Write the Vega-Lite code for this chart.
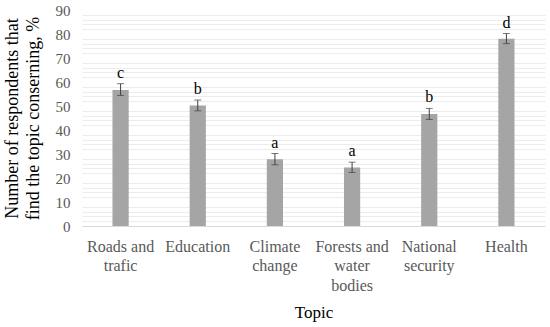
{
  "$schema": "https://vega.github.io/schema/vega-lite/v6.json",
  "width": 463,
  "height": 216,
  "autosize": "none",
  "padding": {"left": 82, "top": 10, "right": 5, "bottom": 101},
  "background": "white",
  "config": {"view": {"stroke": null}, "font": "Liberation Serif"},
  "data": {"values": [
    {"topic": "Roads and trafic", "value": 56.7, "lo": 54.4, "hi": 59.3, "group": "c"},
    {"topic": "Education", "value": 50.2, "lo": 48.0, "hi": 52.5, "group": "b"},
    {"topic": "Climate change", "value": 27.8, "lo": 25.5, "hi": 30.2, "group": "a"},
    {"topic": "Forests and water bodies", "value": 24.4, "lo": 22.3, "hi": 26.6, "group": "a"},
    {"topic": "National security", "value": 46.7, "lo": 44.4, "hi": 49.0, "group": "b"},
    {"topic": "Health", "value": 78.0, "lo": 76.0, "hi": 80.2, "group": "d"}
  ]},
  "encoding": {
    "x": {
      "field": "topic", "type": "nominal", "sort": null,
      "scale": {"paddingInner": 0.79, "paddingOuter": 0.395},
      "axis": {
        "title": "Topic", "titleFontSize": 17, "titleFontWeight": "normal", "titleColor": "#000000", "titlePadding": 11,
        "labelAngle": 0, "labelFontSize": 16, "labelColor": "#595959", "labelPadding": 12, "labelLineHeight": 19.5,
        "labelExpr": "datum.label == 'Roads and trafic' ? ['Roads and', 'trafic'] : datum.label == 'Climate change' ? ['Climate', 'change'] : datum.label == 'Forests and water bodies' ? ['Forests and', 'water', 'bodies'] : datum.label == 'National security' ? ['National', 'security'] : datum.label",
        "ticks": false, "domainColor": "#d9d9d9", "domainWidth": 1, "labelLimit": 200
      }
    }
  },
  "layer": [
    {
      "mark": {"type": "bar", "opacity": 0},
      "encoding": {
        "y": {
          "field": "value", "type": "quantitative",
          "scale": {"domain": [0, 90], "nice": false},
          "axis": {
            "orient": "right",
            "values": [2, 4, 6, 8, 12, 14, 16, 18, 22, 24, 26, 28, 32, 34, 36, 38, 42, 44, 46, 48, 52, 54, 56, 58, 62, 64, 66, 68, 72, 74, 76, 78, 82, 84, 86, 88],
            "title": null, "labels": false, "ticks": false, "domain": false,
            "gridColor": "#ececec", "gridWidth": 1, "zindex": 0
          }
        }
      }
    },
    {
      "mark": {"type": "bar", "color": "#a5a5a5"},
      "encoding": {
        "y": {
          "field": "value", "type": "quantitative",
          "scale": {"domain": [0, 90], "nice": false},
          "axis": {
            "orient": "left",
            "values": [0, 10, 20, 30, 40, 50, 60, 70, 80, 90],
            "title": ["Number of respondents that", "find the topic conserning, %"],
            "titleFontSize": 18, "titleFontWeight": "normal", "titleColor": "#000000", "titlePadding": 13, "titleLineHeight": 21,
            "labelFontSize": 15, "labelColor": "#595959", "labelPadding": 12,
            "ticks": false, "domain": false, "gridColor": "#d9d9d9", "gridWidth": 1, "zindex": 0
          }
        }
      }
    },
    {
      "mark": {"type": "errorbar", "ticks": {"size": 7, "color": "#404040"}, "rule": {"color": "#404040"}, "color": "#404040"},
      "encoding": {
        "y": {"field": "lo", "type": "quantitative", "axis": null},
        "y2": {"field": "hi"}
      }
    },
    {
      "mark": {"type": "text", "baseline": "bottom", "dy": -3, "fontSize": 16, "color": "#000000"},
      "encoding": {
        "y": {"field": "hi", "type": "quantitative", "axis": null},
        "text": {"field": "group"}
      }
    }
  ],
  "resolve": {"axis": {"y": "independent"}}
}
